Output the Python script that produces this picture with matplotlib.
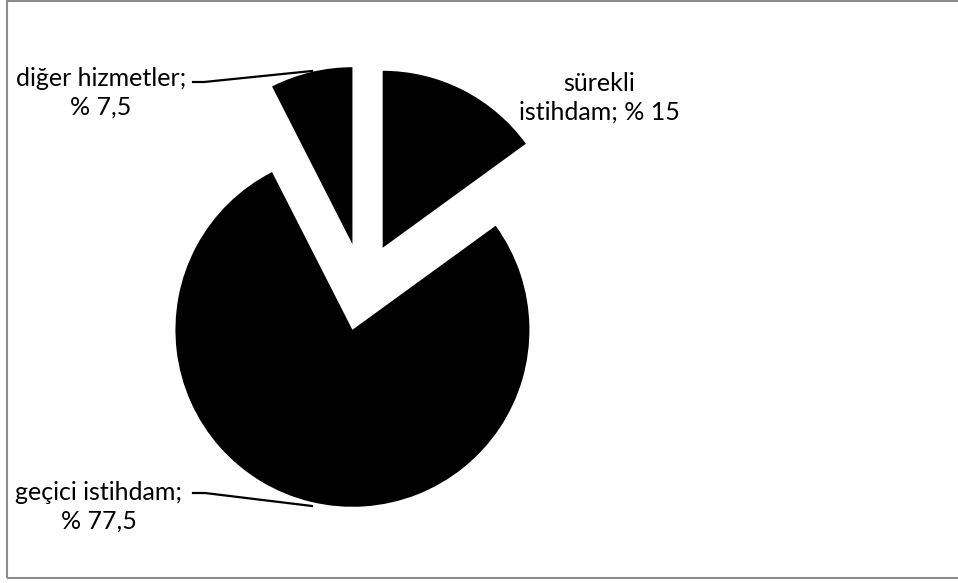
import matplotlib.pyplot as plt
from matplotlib.patches import Rectangle

# shares in percent, clockwise from the top
categories = ["sürekli istihdam", "geçici istihdam", "diğer hizmetler"]
shares = [15, 77.5, 7.5]
labels = ["sürekli\nistihdam; % 15", "geçici istihdam;\n% 77,5", "diğer hizmetler;\n% 7,5"]

W, H = 958, 583
fig = plt.figure(figsize=(W / 100, H / 100), dpi=100)
ax = fig.add_axes([0, 0, 1, 1])

R = 177
cx, cy = 362.7, H - 287
# explode is given in data units here (pixels)
ax.pie(shares, explode=[44] * 3, startangle=90, counterclock=False,
       colors=["black"] * 3, radius=R, center=(cx, cy),
       wedgeprops=dict(linewidth=0))
ax.set_xlim(0, W)
ax.set_ylim(0, H)
ax.set_aspect("auto")
ax.axis("off")

font = dict(family="Lato", size=18, color="black", ha="center", va="center",
            linespacing=1.32)

# label positions in pixel coordinates (y from the top)
ax.text(599, H - 98, labels[0], **font)
ax.text(99, H - 507, labels[1], **font)
ax.text(101, H - 93, labels[2], **font)

# leader lines
ax.plot([193, 204, 312], [H - 82, H - 82, H - 71], color="black", lw=1.6)
ax.plot([193, 205, 312], [H - 493, H - 493, H - 506], color="black", lw=1.6)

# chart area border
fig.patches.append(Rectangle((7 / W, (H - 578) / H), 1.0, 577 / H,
                             transform=fig.transFigure, fill=False,
                             edgecolor="#8c8c8c", lw=1.5))

fig.savefig("out.png", dpi=100)
